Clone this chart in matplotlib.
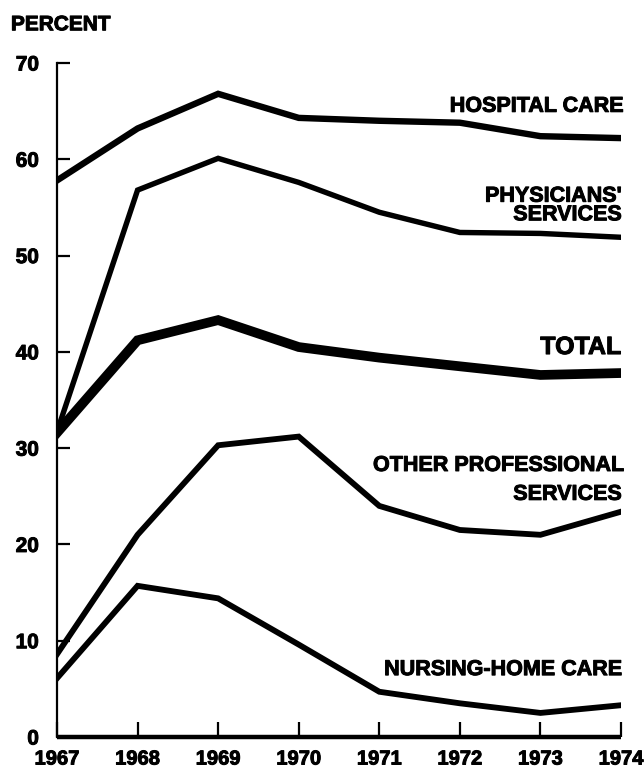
import numpy as np
import matplotlib.pyplot as plt
import matplotlib.patheffects as pe

plt.rcParams['font.family'] = ['Liberation Sans', 'DejaVu Sans']
plt.rcParams['font.weight'] = 'bold'

years = [1967, 1968, 1969, 1970, 1971, 1972, 1973, 1974]

hospital = [57.8, 63.2, 66.8, 64.3, 64.0, 63.8, 62.4, 62.2]
physicians = [31.7, 56.8, 60.1, 57.6, 54.5, 52.4, 52.3, 51.9]
total = [31.6, 41.2, 43.3, 40.5, 39.4, 38.5, 37.6, 37.8]
other_prof = [8.6, 21.0, 30.3, 31.2, 24.0, 21.5, 21.0, 23.4]
nursing = [6.1, 15.7, 14.4, 9.6, 4.7, 3.5, 2.5, 3.3]

yticks = [0, 10, 20, 30, 40, 50, 60, 70]

# a thin stroke makes the text as heavy as the printed original
heavy = [pe.withStroke(linewidth=0.7, foreground='black')]

fig = plt.figure(figsize=(6.44, 7.74), dpi=100)
ax = fig.add_axes([0.0885, 0.0478, 0.8758, 0.8708])

ax.plot(years, hospital, color='black', lw=4.6, solid_joinstyle='miter')
ax.plot(years, physicians, color='black', lw=3.9, solid_joinstyle='miter')
ax.plot(years, total, color='black', lw=7.0, solid_joinstyle='miter')
ax.plot(years, other_prof, color='black', lw=4.2, solid_joinstyle='miter')
ax.plot(years, nursing, color='black', lw=4.2, solid_joinstyle='miter')

# labels at the right end of each line
lab = dict(ha='right', va='center', fontsize=15.5, fontweight='bold', path_effects=heavy)
ax.text(1974.02, 65.5, 'HOSPITAL CARE', **lab)
ax.text(1974.0, 55.2, "PHYSICIANS'\nSERVICES", multialignment='right',
        linespacing=0.85, **lab)
ax.text(1974.0, 40.5, 'TOTAL', ha='right', va='center', fontsize=18,
        fontweight='bold', path_effects=heavy)
ax.text(1974.02, 28.2, 'OTHER PROFESSIONAL', **lab)
ax.text(1974.0, 25.2, 'SERVICES', **lab)
ax.text(1974.0, 7.0, 'NURSING-HOME CARE', **lab)

ax.set_xlim(1967, 1974)
ax.set_ylim(0, 70)
ax.set_xticks(years)
ax.set_yticks(yticks)
ax.set_xticklabels([str(y) for y in years], fontsize=14.5, fontweight='bold')
ax.set_yticklabels([str(v) for v in yticks], fontsize=15, fontweight='bold')
for t in ax.get_xticklabels() + ax.get_yticklabels():
    t.set_path_effects(heavy)

for s in ['top', 'right']:
    ax.spines[s].set_visible(False)
ax.spines['left'].set_linewidth(1.6)
ax.spines['bottom'].set_linewidth(3.2)
ax.spines['bottom'].set_capstyle('butt')

ax.tick_params(axis='y', direction='in', length=9, width=1.6, pad=13)
ax.tick_params(axis='x', direction='in', length=11, width=1.6, pad=9)

fig.text(0.017, 0.968, 'PERCENT', ha='left', va='center', fontsize=15,
         fontweight='bold', path_effects=heavy)

fig.savefig('out.png', dpi=100)
